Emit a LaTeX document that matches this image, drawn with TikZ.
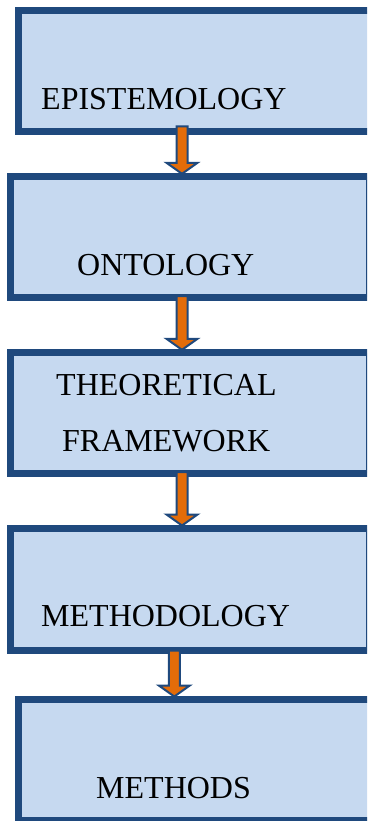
\documentclass[tikz,border=0pt]{standalone}
\usepackage{fontspec}
\setmainfont{Liberation Serif}
\usetikzlibrary{calc}
\definecolor{boxfill}{HTML}{C6D9F0}
\definecolor{boxline}{HTML}{1F497D}
\definecolor{arrowfill}{HTML}{E36C09}
\tikzset{
  stagebox/.style={rectangle, draw=boxline, fill=boxfill, line width=7pt,
    inner sep=0pt, outer sep=0pt, anchor=north west},
  stagelabel/.style={anchor=base west, inner sep=0pt, font=\fontsize{32}{36}\selectfont},
  blockarrow/.style={draw=boxline, fill=arrowfill, line width=2pt, line join=miter},
}
% block arrow from a start point down to a tip point
\newcommand\flowarrow[2]{%
  \path[blockarrow] let \p1=(#1), \p2=(#2) in
    (\x1-5.5pt,\y1) -- (\x1-5.5pt,\y2+11pt) -- (\x1-15.5pt,\y2+11pt) --
    (\x2,\y2) -- (\x1+15.5pt,\y2+11pt) -- (\x1+5.5pt,\y2+11pt) --
    (\x1+5.5pt,\y1) -- cycle;}
\begin{document}
\begin{tikzpicture}[x=1pt, y=-1pt]
  \useasboundingbox (0,0) rectangle (367,821);
  \clip (0,0) rectangle (367,821);

  % stage boxes, placed by the centre line of their frame
  \node[stagebox, minimum width=380pt, minimum height=120.7pt] (b1) at (18.2,10.8) {};
  \node[stagebox, minimum width=358.7pt, minimum height=120.4pt] (b2) at (10.8,176.8) {};
  \node[stagebox, minimum width=358.7pt, minimum height=120.4pt] (b3) at (10.8,352.8) {};
  \node[stagebox, minimum width=358.7pt, minimum height=122pt] (b4) at (10.8,528.5) {};
  \node[stagebox, minimum width=380pt, minimum height=121pt] (b5) at (18.2,699.5) {};

  % labels
  \node[stagelabel] (t1) at (41,110) {EPISTEMOLOGY};
  \node[stagelabel] (t2) at (77,275) {ONTOLOGY};
  \node[stagelabel] (t3a) at (56,395) {THEORETICAL};
  \node[stagelabel] (t3b) at (62,451) {FRAMEWORK};
  \node[stagelabel] (t4) at (41,626.7) {METHODOLOGY};
  \node[stagelabel] (t5) at (96,798) {METHODS};

  % arrow axes
  \coordinate (ax1) at (182,0);
  \coordinate (ax2) at (182,0);
  \coordinate (ax3) at (182,0);
  \coordinate (ax4) at (174.3,0);

  % connectors
  \coordinate (s1) at ($(b1.south -| ax1)+(0,-5)$);
  \coordinate (e1) at ($(b2.north -| ax1)+(0,-3)$);
  \flowarrow{s1}{e1}
  \coordinate (s2) at ($(b2.south -| ax2)+(0,-1)$);
  \coordinate (e2) at ($(b3.north -| ax2)+(0,-3)$);
  \flowarrow{s2}{e2}
  \coordinate (s3) at ($(b3.south -| ax3)+(0,-1)$);
  \coordinate (e3) at ($(b4.north -| ax3)+(0,-3)$);
  \flowarrow{s3}{e3}
  \coordinate (s4) at ($(b4.south -| ax4)+(0,0)$);
  \coordinate (e4) at ($(b5.north -| ax4)+(0,-3)$);
  \flowarrow{s4}{e4}
\end{tikzpicture}
\end{document}
